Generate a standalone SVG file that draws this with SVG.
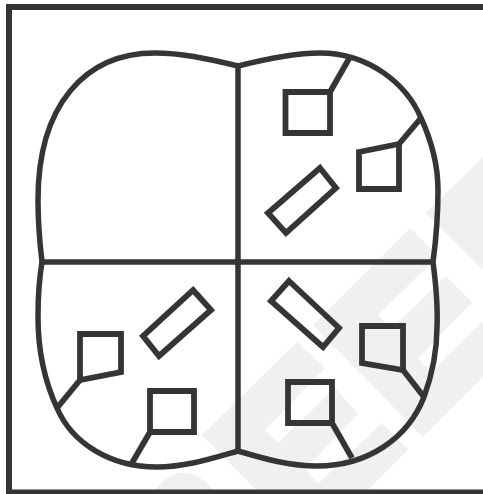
<svg xmlns="http://www.w3.org/2000/svg" width="483" height="494" viewBox="0 0 483 494">
<style>
.wm{fill:#f0f0f0;stroke:none}
.s{fill:none;stroke:#373435;stroke-width:5.8;stroke-linejoin:miter}
.o{fill:none;stroke:#373435;stroke-width:5.5;stroke-linejoin:miter}
.f{fill:none;stroke:#373435;stroke-width:6}
</style>
<rect width="483" height="494" fill="#fff"/>
<g id="watermark">
<polygon class="wm" points="483,157 426,213 483,270"/>
<polygon class="wm" points="410,228 313,325 423,437 483,377 483,321 431,372 418,358 472,302 446,276 391,329 378,315 438,256"/>
<polygon class="wm" points="202,435 297,342 325,368 265,430 278,443 335,388 358,414 305,469 318,484 382,423 408,450 364,494 260,494"/>
<path class="wm" d="M152 494C162 480 172 473 183 473C196 473 208 482 216 494Z"/>
</g>
<g id="frame"><rect class="f" x="9" y="7" width="480" height="485.500"/></g>
<g id="outline">
<path class="o" d="M238 66C205 58 180 53 155 53C85 53 38 105 38 200C38 225 40 245 42 262"/>
<path class="o" d="M238 66C270 58 295 53 320 53C370 53 407 85 421 118C432 142 438 165 438 190C438 220 436 240 433 262"/>
<path class="o" d="M433 262C436 285 438 305 437 327C437 352 432 375 424 397C408 438 368 466 317 466C290 466 265 459 238 451"/>
<path class="o" d="M42 262C39 280 38 300 38 317C38 350 45 382 57 408C72 443 110 467 157 467C185 467 210 459 238 451"/>
<path class="o" d="M238 66V451M40 262H435"/>
</g>
<g id="connectors">
<path class="s" d="M330 92L350 57"/>
<path class="s" d="M399 144L421 118"/>
<path class="s" d="M403 370L424 397"/>
<path class="s" d="M332 423L352 458"/>
<path class="s" d="M80 380L57 408"/>
<path class="s" d="M150 432L132 463"/>
</g>
<g id="node-tr-square"><polygon class="s" points="285.500,92 330,92 330,133 285.500,133"/></g>
<g id="node-tr-flag"><polygon class="s" points="359,152 399,144 399,189 359,189"/></g>
<g id="node-tr-bar"><polygon class="s" points="320,168 336,188 286,233 268,213"/></g>
<g id="node-br-bar"><polygon class="s" points="289,281 339,328 323,347 271,301"/></g>
<g id="node-br-flag"><polygon class="s" points="362,326 403,326 403,370 362,363"/></g>
<g id="node-br-square"><polygon class="s" points="288,382 332,382 332,423 288,423"/></g>
<g id="node-bl-bar"><polygon class="s" points="193,290 211,310 159,356 143,336"/></g>
<g id="node-bl-flag"><polygon class="s" points="80,334 121,334 121,372 80,380"/></g>
<g id="node-bl-square"><polygon class="s" points="150,391 194,391 194,432 150,432"/></g>
</svg>
